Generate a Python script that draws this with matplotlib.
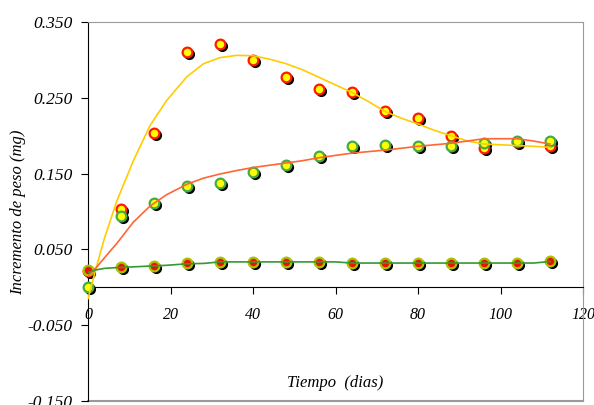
import matplotlib
matplotlib.use("Agg")
import matplotlib.pyplot as plt
import matplotlib.transforms as mtransforms

# ── DATA ─────────────────────────────────────────────────────────────────────
dias = [0, 8, 16, 24, 32, 40, 48, 56, 64, 72, 80, 88, 96, 104, 112]

# observed points
obs_alto  = [0.022, 0.103, 0.204, 0.311, 0.321, 0.300, 0.278, 0.262, 0.258,
             0.232, 0.224, 0.200, 0.184, 0.192, 0.186]
obs_medio = [0.000, 0.0935, 0.111, 0.134, 0.1376, 0.1517, 0.161, 0.173, 0.186,
             0.188, 0.186, 0.186, 0.191, 0.1926, 0.1935]
obs_bajo  = [0.023, 0.027, 0.028, 0.032, 0.0337, 0.0337, 0.034, 0.034, 0.032,
             0.032, 0.032, 0.032, 0.032, 0.032, 0.0346]

# fitted curves
dias_fit  = [0, 2, 4, 7, 11, 15, 19, 24, 28, 32, 36, 40, 44, 48, 52, 56, 60,
             64, 68, 72, 76, 80, 84, 88, 92, 96, 100, 104, 108, 112]
fit_alto  = [-0.015, 0.026, 0.065, 0.114, 0.167, 0.213, 0.246, 0.278, 0.295,
             0.303, 0.306, 0.3055, 0.301, 0.295, 0.287, 0.277, 0.267, 0.257,
             0.245, 0.232, 0.223, 0.2155, 0.207, 0.200, 0.193, 0.189, 0.188,
             0.187, 0.186, 0.1847]
fit_medio = [0.015, 0.026, 0.039, 0.058, 0.086, 0.107, 0.122, 0.136, 0.144,
             0.1495, 0.154, 0.158, 0.161, 0.164, 0.167, 0.171, 0.174, 0.177,
             0.179, 0.181, 0.1835, 0.186, 0.188, 0.190, 0.193, 0.196, 0.196,
             0.196, 0.193, 0.189]
fit_bajo  = [0.0195, 0.023, 0.025, 0.026, 0.027, 0.028, 0.029, 0.031, 0.0315,
             0.0335, 0.0335, 0.0335, 0.0335, 0.0335, 0.0335, 0.0335, 0.0335,
             0.032, 0.032, 0.032, 0.032, 0.032, 0.032, 0.032, 0.032, 0.032,
             0.032, 0.032, 0.032, 0.034]

x_ticks = [0, 20, 40, 60, 80, 100, 120]
y_ticks = [-0.150, -0.050, 0.050, 0.150, 0.250, 0.350]

# ── STYLE ────────────────────────────────────────────────────────────────────
FONT = "Liberation Serif"
GRAY = "#9a9a9a"
plt.rcParams.update({"font.family": FONT, "font.style": "italic"})

fig = plt.figure(figsize=(5.94, 4.05), dpi=100)
ax = fig.add_axes([88 / 594, 4 / 405, 495 / 594, 379 / 405])

shadow = mtransforms.offset_copy(ax.transData, fig=fig, x=2, y=-2, units="dots")


def puntos(y, face, edge):
    ax.plot(dias, y, "o", ms=7, color="black", mec="black",
            transform=shadow, zorder=2, clip_on=False)
    ax.plot(dias, y, "o", ms=7, mfc=face, mec=edge, mew=1.6,
            zorder=3, clip_on=False)


puntos(obs_alto, "#ffff00", "#ff1a00")
puntos(obs_medio, "#ffff00", "#44aa44")
puntos(obs_bajo, "#ee1100", "#a8c400")

ax.plot(dias_fit, fit_alto, color="#ffcc00", lw=1.2, zorder=4)
ax.plot(dias_fit, fit_medio, color="#ff6633", lw=1.2, zorder=4)
ax.plot(dias_fit, fit_bajo, color="#339933", lw=1.2, zorder=4)

ax.set_xlim(0, 120)
ax.set_ylim(-0.150, 0.350)
ax.set_xticks(x_ticks)
ax.set_yticks(y_ticks)
ax.set_xticklabels([str(v) for v in x_ticks])
ax.set_yticklabels([f"{v:.3f}" for v in y_ticks])

ax.spines["bottom"].set_position(("data", 0))
ax.spines["bottom"].set_color("black")
ax.spines["left"].set_color("black")
ax.spines["top"].set_color(GRAY)
ax.spines["right"].set_color(GRAY)
ax.plot([0, 1], [0, 0], transform=ax.transAxes, color=GRAY, lw=1.5,
        clip_on=False, zorder=1)

ax.tick_params(axis="x", direction="out", length=5, pad=9, labelsize=11.5)
ax.tick_params(axis="y", direction="out", length=5, pad=6, labelsize=12.5)

ax.text(60, -0.126, "Tiempo  (dias)", ha="center", va="center", fontsize=12)
fig.text(18 / 594, 1 - 212 / 405, "Incremento de peso (mg)", rotation=90,
         ha="center", va="center", fontsize=12)

fig.savefig("out.png", dpi=100)
